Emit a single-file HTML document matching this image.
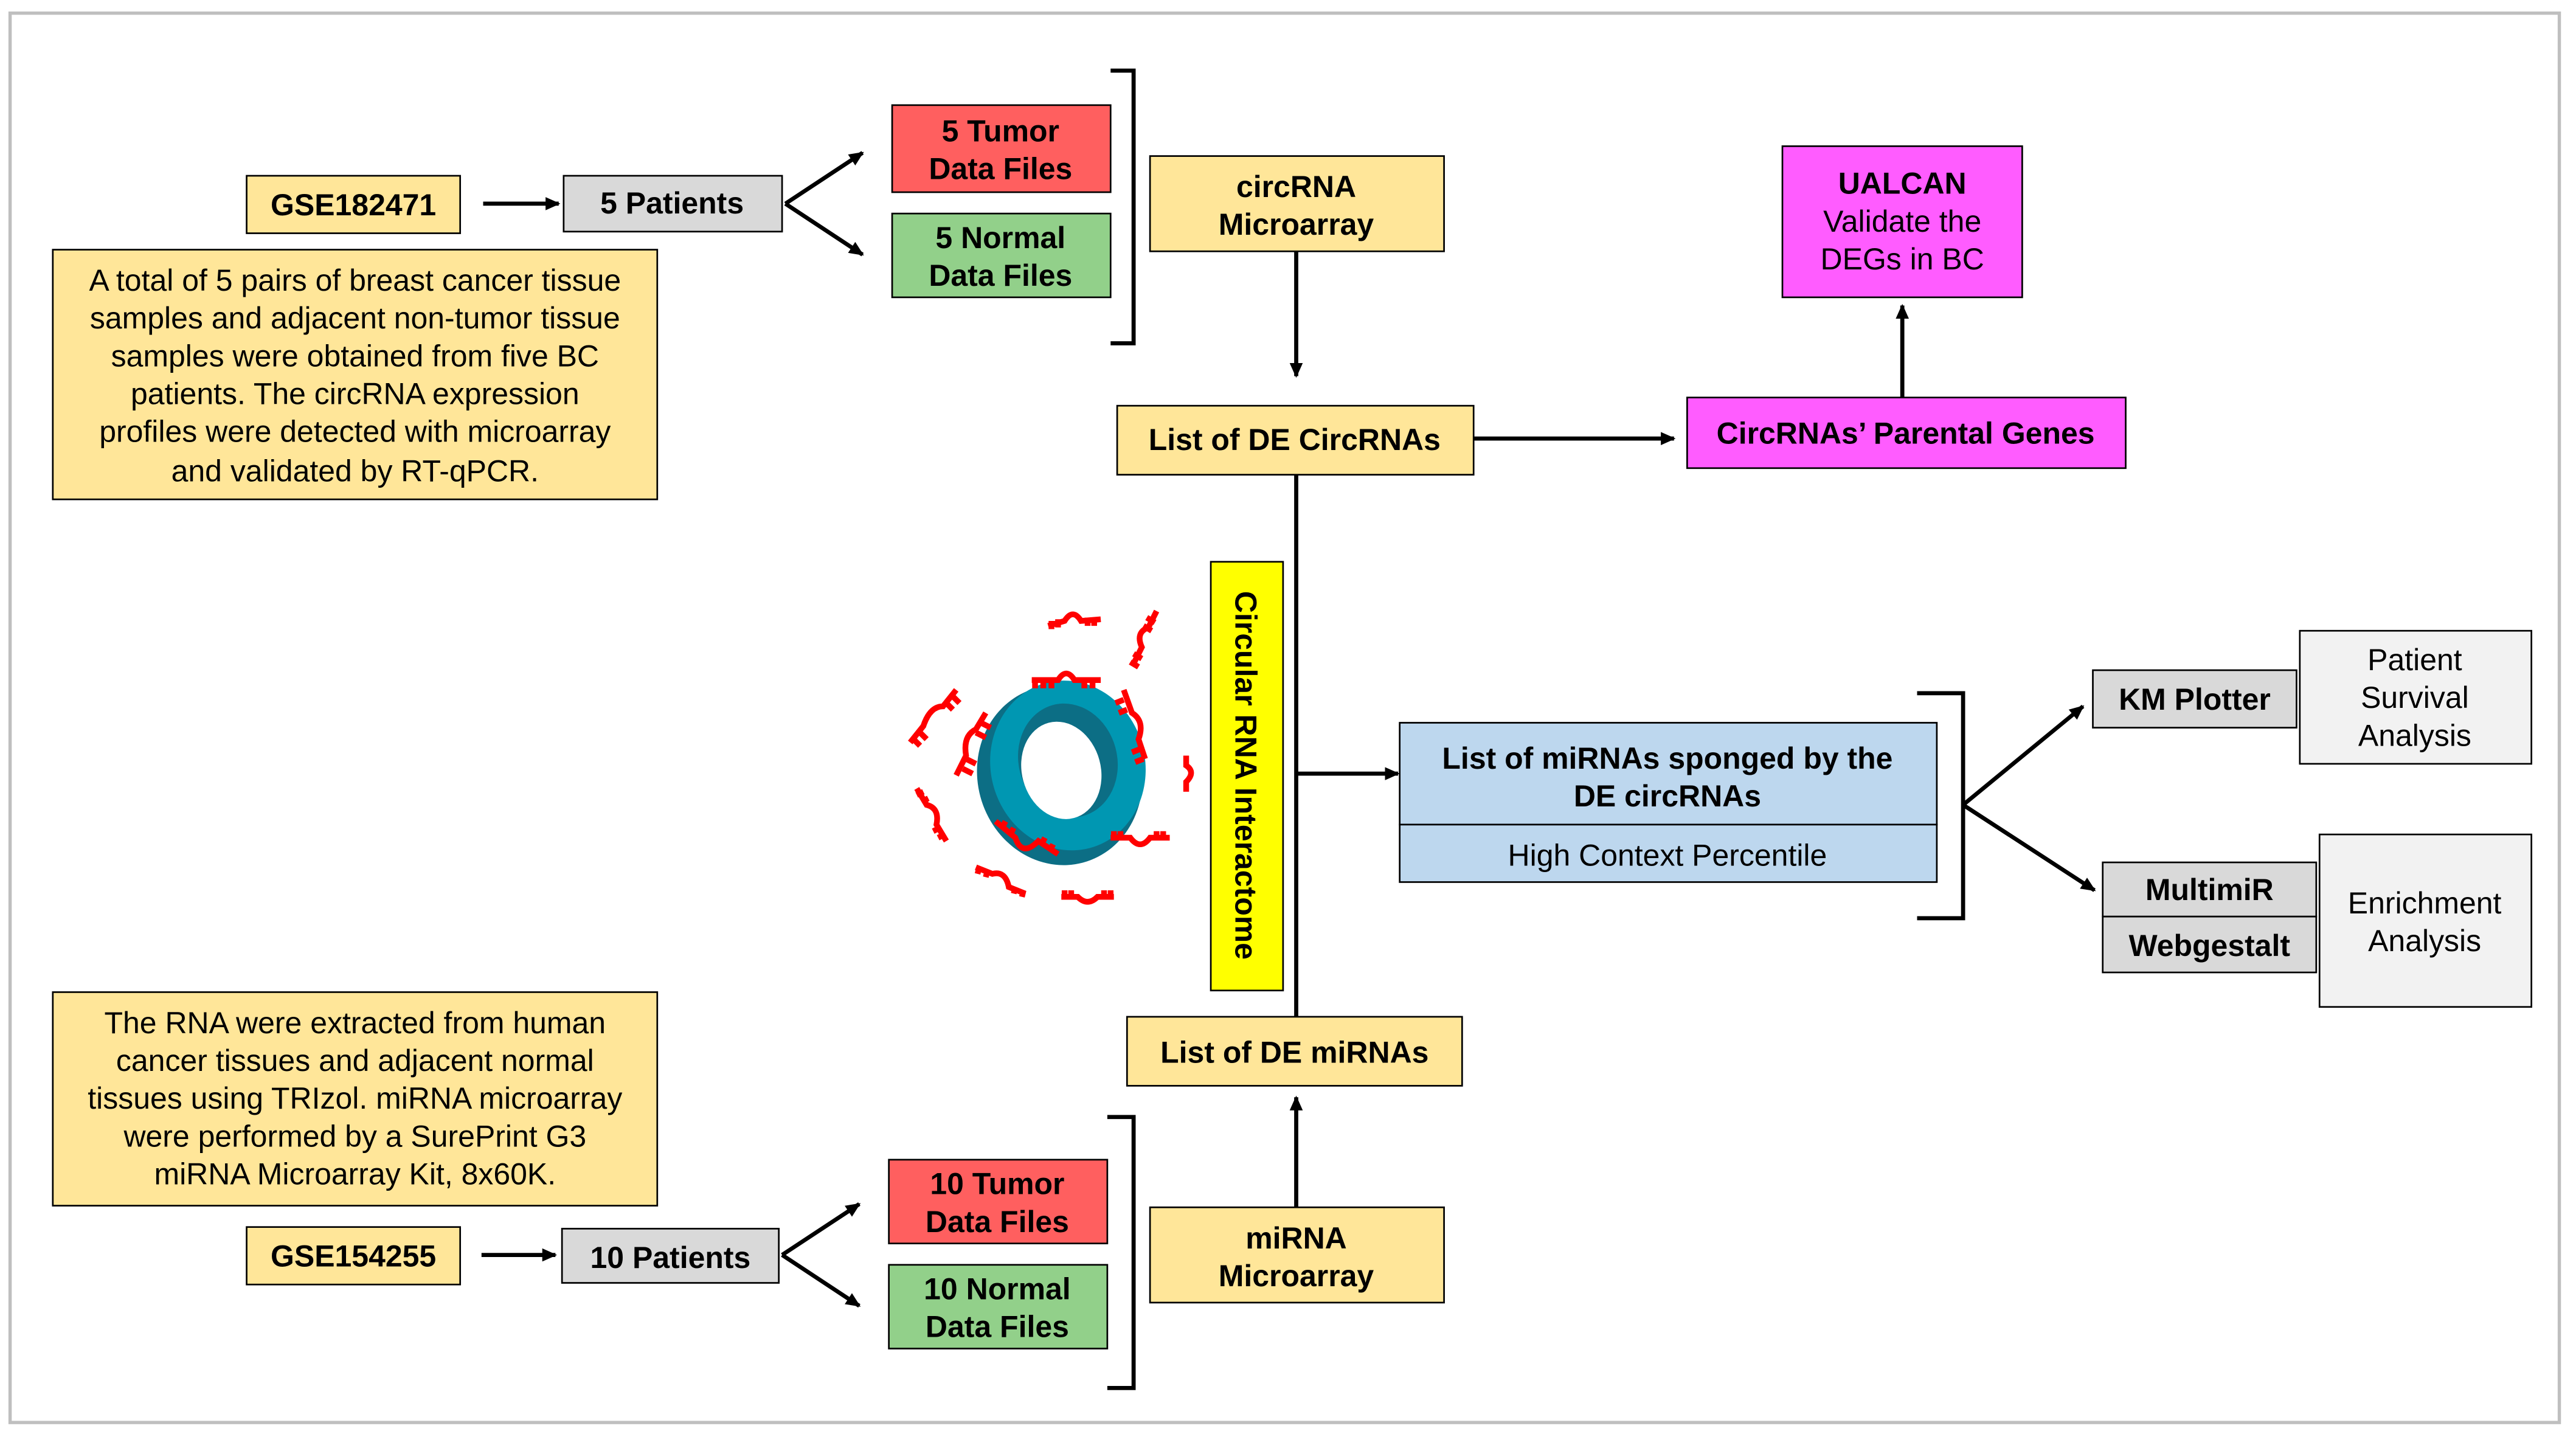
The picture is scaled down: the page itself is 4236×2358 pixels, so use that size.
<!DOCTYPE html>
<html><head><meta charset="utf-8"><style>
html,body{margin:0;padding:0;background:#fff;}
svg{display:block;}
text{font-family:"Liberation Sans",Arial,sans-serif;font-size:18.5px;fill:#000;}
.b{font-weight:bold;}
</style></head><body>
<svg width="4236" height="2358" viewBox="0 0 1568 873" xmlns="http://www.w3.org/2000/svg">
<defs>
<marker id="a" markerWidth="10" markerHeight="10" refX="8" refY="5" orient="auto" markerUnits="userSpaceOnUse">
<path d="M0,1 L9,5 L0,9 Z" fill="#000"/></marker>
</defs>
<rect x="6" y="8" width="1552" height="858" fill="#fff" stroke="#bfbfbf" stroke-width="2"/>

<g stroke="#000" stroke-width="1">
<rect x="150" y="107" width="130" height="35" fill="#FFE699"/>
<rect x="343" y="107" width="133" height="34" fill="#D9D9D9"/>
<rect x="543" y="64" width="133" height="53" fill="#FF5F5F"/>
<rect x="543" y="130" width="133" height="51" fill="#92D08A"/>
<rect x="700" y="95" width="179" height="58" fill="#FFE699"/>
<rect x="680" y="247" width="217" height="42" fill="#FFE699"/>
<rect x="1027" y="242" width="267" height="43" fill="#FF5CFF"/>
<rect x="1085" y="89" width="146" height="92" fill="#FF5CFF"/>
<rect x="32" y="152" width="368" height="152" fill="#FFE699"/>
<rect x="737" y="342" width="44" height="261" fill="#FFFF00"/>
<rect x="852" y="440" width="327" height="62" fill="#BDD7EE"/>
<rect x="852" y="502" width="327" height="35" fill="#BDD7EE"/>
<rect x="1274" y="408" width="124" height="35" fill="#D9D9D9"/>
<rect x="1400" y="384" width="141" height="81" fill="#F2F2F2"/>
<rect x="1280" y="525" width="130" height="33" fill="#D9D9D9"/>
<rect x="1280" y="558" width="130" height="34" fill="#D9D9D9"/>
<rect x="1412" y="508" width="129" height="105" fill="#F2F2F2"/>
<rect x="32" y="604" width="368" height="130" fill="#FFE699"/>
<rect x="686" y="619" width="204" height="42" fill="#FFE699"/>
<rect x="700" y="735" width="179" height="58" fill="#FFE699"/>
<rect x="150" y="747" width="130" height="35" fill="#FFE699"/>
<rect x="342" y="748" width="132" height="33" fill="#D9D9D9"/>
<rect x="541" y="706" width="133" height="51" fill="#FF5F5F"/>
<rect x="541" y="770" width="133" height="51" fill="#92D08A"/>
</g>

<g stroke="#000" stroke-width="2.5" fill="none">
<line x1="294" y1="124" x2="340" y2="124" marker-end="url(#a)"/>
<line x1="478" y1="124" x2="525" y2="93" marker-end="url(#a)"/>
<line x1="478" y1="124" x2="525" y2="155" marker-end="url(#a)"/>
<path d="M676,43 H690 V209 H676"/>
<line x1="789" y1="153" x2="789" y2="229" marker-end="url(#a)"/>
<line x1="897" y1="267" x2="1019" y2="267" marker-end="url(#a)"/>
<line x1="1158" y1="242" x2="1158" y2="186" marker-end="url(#a)"/>
<line x1="789" y1="289" x2="789" y2="619"/>
<line x1="789" y1="471" x2="851" y2="471" marker-end="url(#a)"/>
<path d="M1167,422 H1195 V559 H1167"/>
<line x1="1195" y1="490" x2="1268" y2="430" marker-end="url(#a)"/>
<line x1="1195" y1="490" x2="1275" y2="542" marker-end="url(#a)"/>
<line x1="789" y1="735" x2="789" y2="668" marker-end="url(#a)"/>
<line x1="293" y1="764" x2="338" y2="764" marker-end="url(#a)"/>
<line x1="476" y1="764" x2="523" y2="733" marker-end="url(#a)"/>
<line x1="476" y1="764" x2="523" y2="795" marker-end="url(#a)"/>
<path d="M674,680 H690 V845 H674"/>
</g>

<!-- circRNA graphic -->
<g>
<ellipse cx="645" cy="472" rx="50" ry="55" fill="#0C6E85" transform="rotate(-15 645 472)"/>
<ellipse cx="650" cy="466" rx="47" ry="52" fill="#0097B2" transform="rotate(-15 650 466)"/>
<ellipse cx="650" cy="463" rx="30" ry="35" fill="#0C6E85" transform="rotate(-15 650 463)"/>
<ellipse cx="646" cy="469" rx="24" ry="30" fill="#fff" transform="rotate(-15 646 469)"/>
<g stroke="#f00" stroke-width="3.5" fill="none">
<path d="M638,381 l10,-3 q5,-8 10,0 l12,-1"/><path d="M640,378 v5 M644,377 v5 M662,376 v5 M666,376 v5"/>
<path d="M704,372 l-5,10 q-8,3 -4,12 l-5,10"/><path d="M698,376 l5,3 M696,381 l5,3 M690,398 l5,3 M688,403 l5,3"/>
<path d="M628,414 h16 q5,-8 10,0 h16"/><path d="M630,414 v5 M635,414 v5 M640,414 v5 M660,414 v5 M665,414 v5"/>
<path d="M600,434 l-6,10 q-8,4 -6,16 l-6,12"/><path d="M597,440 l6,3 M594,446 l6,3 M588,462 l6,3 M586,468 l6,3"/>
<path d="M684,420 l5,14 q8,5 4,16 l4,12"/><path d="M684,426 l-5,2 M686,432 l-5,2 M694,456 l-5,2 M696,462 l-5,2"/>
<path d="M582,420 l-8,10 q-8,0 -12,12 l-8,10"/><path d="M580,424 l4,4 M576,428 l4,4 M560,446 l4,4 M556,450 l4,4"/>
<path d="M558,480 l6,10 q8,2 6,12 l6,10"/><path d="M558,484 l4,-2 M561,488 l4,-2 M568,506 l4,-2 M571,510 l4,-2"/>
<path d="M606,500 l12,10 q4,12 14,2 l12,8"/><path d="M612,500 l-2,4 M617,504 l-2,4 M636,510 l-2,4 M641,514 l-2,4"/>
<path d="M676,510 h12 q6,8 12,0 h12"/><path d="M678,510 v-4 M682,510 v-4 M704,510 v-4 M708,510 v-4"/>
<path d="M722,460 v6 q6,4 0,10 v6"/>
<path d="M594,528 l10,4 q8,-2 10,8 l10,4"/><path d="M596,528 l-1,4 M601,530 l-1,4 M618,540 l-1,4 M623,542 l-1,4"/>
<path d="M646,546 h10 q6,6 12,0 h10"/><path d="M648,546 v-4 M652,546 v-4 M672,546 v-4 M676,546 v-4"/>
</g>
</g>

<g text-anchor="middle">
<text class="b" x="215" y="131">GSE182471</text>
<text class="b" x="409" y="130">5 Patients</text>
<text class="b" x="609" y="86">5 Tumor</text>
<text class="b" x="609" y="109">Data Files</text>
<text class="b" x="609" y="151">5 Normal</text>
<text class="b" x="609" y="174">Data Files</text>
<text class="b" x="789" y="120">circRNA</text>
<text class="b" x="789" y="143">Microarray</text>
<text class="b" x="788" y="274">List of DE CircRNAs</text>
<text class="b" x="1160" y="270">CircRNAs’ Parental Genes</text>
<text class="b" x="1158" y="118">UALCAN</text>
<text x="1158" y="141">Validate the</text>
<text x="1158" y="164">DEGs in BC</text>
<text x="216" y="177">A total of 5 pairs of breast cancer tissue</text>
<text x="216" y="200">samples and adjacent non-tumor tissue</text>
<text x="216" y="223">samples were obtained from five BC</text>
<text x="216" y="246">patients. The circRNA expression</text>
<text x="216" y="269">profiles were detected with microarray</text>
<text x="216" y="293">and validated by RT-qPCR.</text>
<text class="b" x="0" y="0" transform="translate(752,472) rotate(90)">Circular RNA Interactome</text>
<text class="b" x="1015" y="468">List of miRNAs sponged by the</text>
<text class="b" x="1015" y="491">DE circRNAs</text>
<text x="1015" y="527">High Context Percentile</text>
<text class="b" x="1336" y="432">KM Plotter</text>
<text x="1470" y="408">Patient</text>
<text x="1470" y="431">Survival</text>
<text x="1470" y="454">Analysis</text>
<text class="b" x="1345" y="548">MultimiR</text>
<text class="b" x="1345" y="582">Webgestalt</text>
<text x="1476" y="556">Enrichment</text>
<text x="1476" y="579">Analysis</text>
<text x="216" y="629">The RNA were extracted from human</text>
<text x="216" y="652">cancer tissues and adjacent normal</text>
<text x="216" y="675">tissues using TRIzol. miRNA microarray</text>
<text x="216" y="698">were performed by a SurePrint G3</text>
<text x="216" y="721">miRNA Microarray Kit, 8x60K.</text>
<text class="b" x="788" y="647">List of DE miRNAs</text>
<text class="b" x="789" y="760">miRNA</text>
<text class="b" x="789" y="783">Microarray</text>
<text class="b" x="215" y="771">GSE154255</text>
<text class="b" x="408" y="772">10 Patients</text>
<text class="b" x="607" y="727">10 Tumor</text>
<text class="b" x="607" y="750">Data Files</text>
<text class="b" x="607" y="791">10 Normal</text>
<text class="b" x="607" y="814">Data Files</text>
</g>
</svg>
</body></html>
